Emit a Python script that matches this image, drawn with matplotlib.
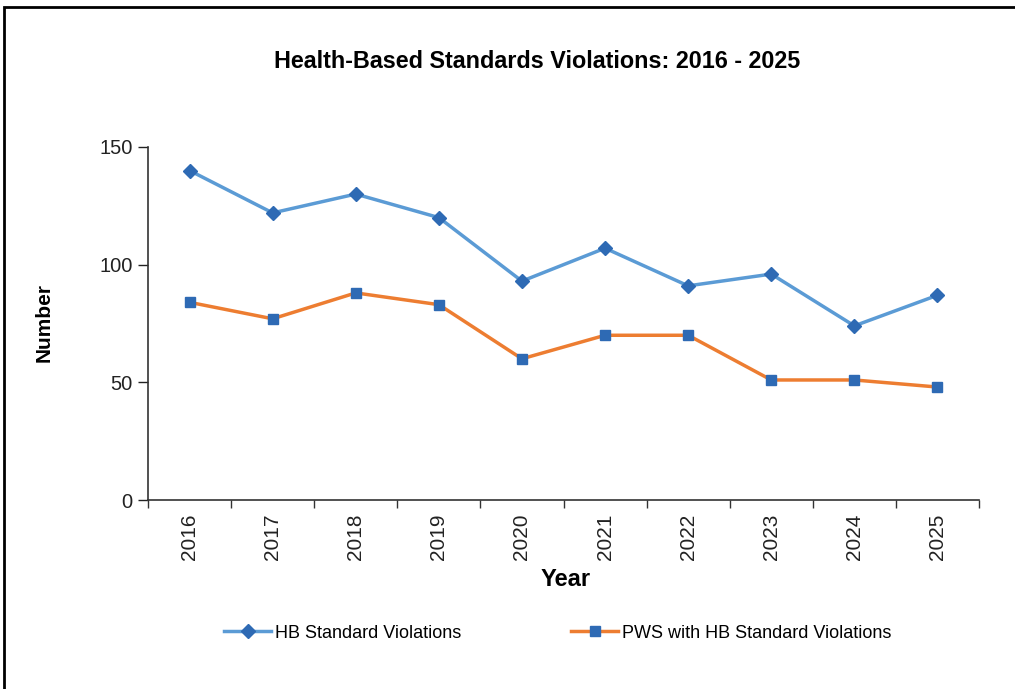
import matplotlib
matplotlib.use("Agg")
import matplotlib.pyplot as plt
from matplotlib.patches import Rectangle

years = ["2016", "2017", "2018", "2019", "2020", "2021", "2022", "2023", "2024", "2025"]
hb_violations = [140, 122, 130, 120, 93, 107, 91, 96, 74, 87]
pws_violations = [84, 77, 88, 83, 60, 70, 70, 51, 51, 48]

plt.rcParams['font.family'] = ['Liberation Sans', 'DejaVu Sans']

fig = plt.figure(figsize=(10.15, 6.89), dpi=100)
ax = fig.add_axes([148/1015, 1 - 500/689, (979-148)/1015, (500-147)/689])

# outer frame like the source screenshot
fig.patches.append(Rectangle((4/1015, -0.05), 1.1, 1 - 7/689 + 0.05, transform=fig.transFigure,
                             fill=False, edgecolor='black', linewidth=2))

x = list(range(len(years)))
hb_line, = ax.plot(x, hb_violations, color='#5B9BD5', linewidth=2.5, marker='D', markersize=7,
                   markerfacecolor='#2E6AB4', markeredgecolor='#2E6AB4')
pws_line, = ax.plot(x, pws_violations, color='#ED7D31', linewidth=2.5, marker='s', markersize=7,
                    markerfacecolor='#2E6AB4', markeredgecolor='#2E6AB4')

ax.set_xlim(-0.5, len(years) - 0.5)
ax.set_ylim(0, 150)
ax.set_yticks([0, 50, 100, 150])
ax.tick_params(axis='y', labelsize=14.5, length=7, width=1, direction='out', pad=4, colors='#222222')

# ticks at category boundaries, labels at centres
ax.set_xticks([i - 0.5 for i in range(len(years) + 1)])
ax.set_xticklabels([])
ax.set_xticks(x, minor=True)
ax.set_xticklabels(years, minor=True, rotation=90, fontsize=15)
ax.tick_params(axis='x', which='major', length=6, width=1, direction='out', colors='#333333')
ax.tick_params(axis='x', which='minor', length=0, pad=10, labelcolor='#222222')

for side in ['top', 'right']:
    ax.spines[side].set_visible(False)
for side in ['left', 'bottom']:
    ax.spines[side].set_linewidth(1.2)
    ax.spines[side].set_color('#333333')

fig.text(537/1015, 1 - 62/689, 'Health-Based Standards Violations: 2016 - 2025',
         ha='center', va='center', fontsize=16.8, fontweight='bold')
fig.text(566/1015, 1 - 580/689, 'Year', ha='center', va='center', fontsize=17, fontweight='bold')
fig.text(44/1015, 1 - 322/689, 'Number', ha='center', va='center', fontsize=15,
         fontweight='bold', rotation=90)

# two legend entries placed separately to match spacing
fig.legend([hb_line], ['HB Standard Violations'], loc='center left',
           bbox_to_anchor=(208/1015, 1 - 633/689), frameon=False, fontsize=13,
           handlelength=2.6, handletextpad=0.2)
fig.legend([pws_line], ['PWS with HB Standard Violations'], loc='center left',
           bbox_to_anchor=(555/1015, 1 - 633/689), frameon=False, fontsize=13,
           handlelength=2.6, handletextpad=0.2)

fig.savefig('out.png', dpi=100)
